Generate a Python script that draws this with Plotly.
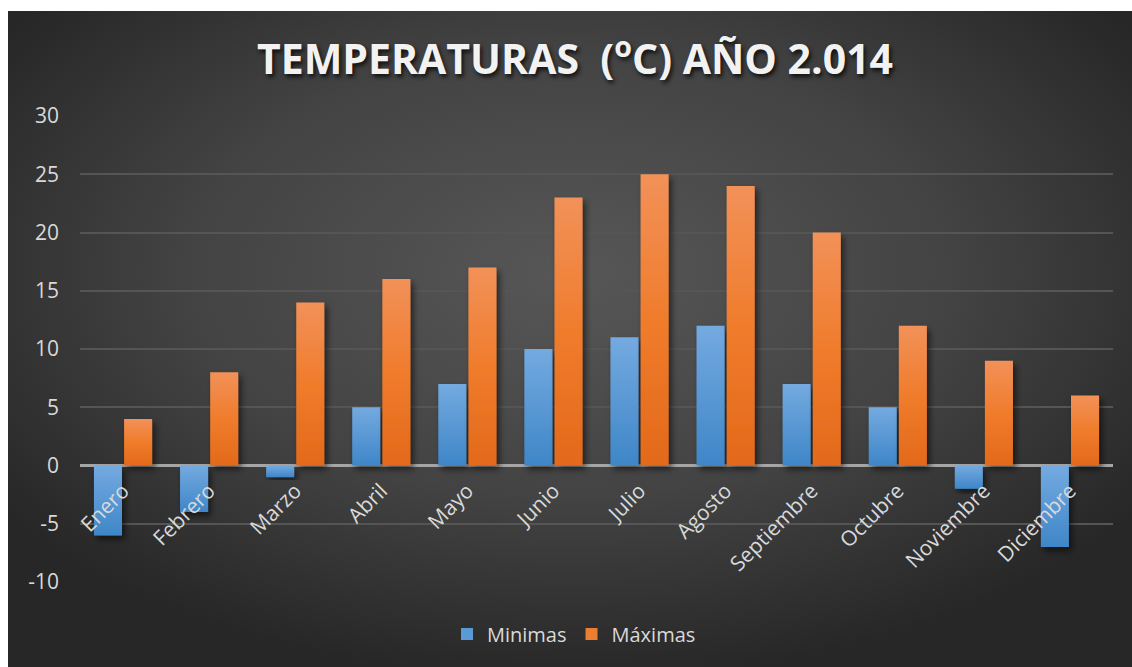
import base64
import plotly.graph_objects as go

# Monthly temperature data, 2014 (degrees C)
meses = ["Enero", "Febrero", "Marzo", "Abril", "Mayo", "Junio", "Julio",
         "Agosto", "Septiembre", "Octubre", "Noviembre", "Diciembre"]
minimas = [-6, -4, -1, 5, 7, 10, 11, 12, 7, 5, -2, -7]
maximas = [4, 8, 14, 16, 17, 23, 25, 24, 20, 12, 9, 6]
y_ticks = [-10, -5, 0, 5, 10, 15, 20, 25, 30]
y_labels = [str(v) for v in y_ticks]  # plain hyphen for negatives

W, H = 1132, 667
L, R, T, B = 80, 19, 116, 85
plot_w = W - L - R
plot_h = H - T - B

# Dark radial-gradient backdrop for the chart card
bg_svg = f"""<svg xmlns='http://www.w3.org/2000/svg' width='1124' height='656' viewBox='0 0 1124 656' preserveAspectRatio='none'>
<defs><radialGradient id='g' cx='0.5' cy='0.4' r='0.62' gradientUnits='objectBoundingBox'>
<stop offset='0' stop-color='#575757'/><stop offset='0.55' stop-color='#434343'/>
<stop offset='1' stop-color='#272727'/></radialGradient></defs>
<rect width='1124' height='656' fill='url(#g)'/></svg>"""
bg_src = "data:image/svg+xml;base64," + base64.b64encode(bg_svg.encode()).decode()

card_x0, card_y0 = 8, 11
fig = go.Figure()
fig.add_trace(go.Bar(x=meses, y=minimas, name="Minimas",
                     marker=dict(color="#5B9BD5", line=dict(width=0))))
fig.add_trace(go.Bar(x=meses, y=maximas, name="Máximas",
                     marker=dict(color="#ED7D31", line=dict(width=0))))

font_main = "Open Sans"
fig.update_layout(
    width=W, height=H,
    margin=dict(l=L, r=R, t=T, b=B, autoexpand=False),
    paper_bgcolor="white",
    plot_bgcolor="rgba(0,0,0,0)",
    barmode="group", bargap=0.3, bargroupgap=0.07,
    images=[dict(source=bg_src, xref="paper", yref="paper",
                 x=(card_x0 - L) / plot_w, y=(H - B - card_y0) / plot_h,
                 sizex=(W - card_x0) / plot_w, sizey=(H - card_y0) / plot_h,
                 xanchor="left", yanchor="top", sizing="stretch", layer="below")],
    title=dict(text="TEMPERATURAS  (<sup>o</sup>C) AÑO 2.014",
               x=575 / W, xref="container", xanchor="center",
               y=1 - 60 / H, yref="container", yanchor="middle",
               font=dict(family="Open Sans", size=41, color="#f2f2f2",
                         weight="bold", shadow="2px 3px 4px rgba(0,0,0,0.75)")),
    showlegend=True,
    legend=dict(orientation="h", x=(574 - L) / plot_w, xanchor="center",
                y=-(634 - (H - B)) / plot_h, yanchor="middle",
                font=dict(family=font_main, size=20, color="#d9d9d9"),
                bgcolor="rgba(0,0,0,0)", itemwidth=30, traceorder="normal"),
    xaxis=dict(anchor="free", position=(H - B - 465.5) / plot_h,
               showline=False, showgrid=False, zeroline=False, ticks="",
               tickangle=-45, ticklabelstandoff=8,
               tickfont=dict(family=font_main, size=21, color="#d9d9d9")),
    yaxis=dict(range=[-10, 30], tickvals=y_ticks, ticktext=y_labels,
               showline=False, gridcolor="#555555", gridwidth=1.5,
               zeroline=True, zerolinecolor="#a6a6a6", zerolinewidth=2.5,
               ticks="", ticklabelstandoff=20,
               tickfont=dict(family=font_main, size=21, color="#d9d9d9")),
)

# Vertical shading on the bars and a soft drop shadow
post = """
var gd = document.querySelector('.js-plotly-plot');
var svg = gd.querySelector('svg.main-svg');
var ns = 'http://www.w3.org/2000/svg';
var defs = document.createElementNS(ns, 'defs');
defs.innerHTML = "<linearGradient id='gBlue' x1='0' y1='0' x2='0' y2='1'><stop offset='0' stop-color='#74aae0'/><stop offset='1' stop-color='#3f86c8'/></linearGradient>" +
  "<linearGradient id='gOrange' x1='0' y1='0' x2='0' y2='1'><stop offset='0' stop-color='#f29159'/><stop offset='0.5' stop-color='#f07c2c'/><stop offset='1' stop-color='#e3691a'/></linearGradient>" +
  "<filter id='sh' x='-30%' y='-10%' width='170%' height='130%'><feDropShadow dx='3' dy='4' stdDeviation='3' flood-color='#000' flood-opacity='0.55'/></filter>";
svg.insertBefore(defs, svg.firstChild);
var traces = gd.querySelectorAll('g.barlayer g.trace.bars');
var ids = ['gBlue', 'gOrange'];
traces.forEach(function(t, i){
  t.querySelectorAll('g.point path').forEach(function(p){
    p.style.fill = 'url(#' + ids[i] + ')';
    p.setAttribute('filter', 'url(#sh)');
  });
});
"""
fig.write_html("out.html", post_script=post)
